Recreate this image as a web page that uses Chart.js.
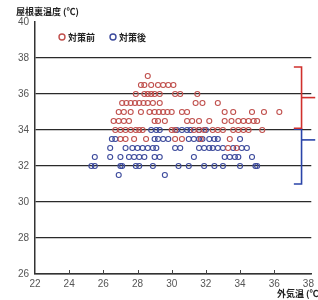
<!DOCTYPE html>
<html>
<head>
<meta charset="utf-8">
<script src="https://cdn.jsdelivr.net/npm/chart.js@4.4.1/dist/chart.umd.min.js"></script>
<style>
  html, body { margin: 0; padding: 0; background: #fff; }
  #wrap { width: 318px; height: 300px; position: relative; }
</style>
</head>
<body>
<div id="wrap"><canvas id="c"></canvas></div>
<script>
// 対策前 (before) - outside temp x, attic temp y
const beforeX = [
  28.6,
  28.2, 28.4, 28.8, 29.2, 29.5, 29.8, 30.1,
  27.9, 28.4, 28.6, 28.8, 29.0, 29.3, 30.2, 30.5, 31.5,
  27.1, 27.35, 27.6, 27.85, 28.1, 28.35, 28.6, 28.9, 29.3, 31.4, 31.8, 32.7,
  26.9, 27.2, 27.6, 28.2, 28.7, 29.0, 29.25, 29.5, 29.75, 30.0, 30.6, 30.9, 33.1, 33.6, 34.7, 35.4, 36.3,
  26.6, 26.9, 27.2, 27.5, 29.0, 29.2, 29.6, 30.9, 31.2, 31.6, 32.2, 33.1, 33.5, 33.9, 34.2, 34.5, 34.8, 35.0,
  26.7, 27.0, 27.3, 27.6, 27.9, 28.1, 28.3, 30.0, 30.2, 31.3, 31.6, 31.9, 32.4, 32.7, 33.0, 33.6, 33.9, 34.2, 34.5, 35.3,
  27.0, 27.3, 27.8, 28.5, 30.2, 30.6, 31.7, 33.4,
  33.3, 33.8
];
const beforeY = [
  37,
  36.5, 36.5, 36.5, 36.5, 36.5, 36.5, 36.5,
  36, 36, 36, 36, 36, 36, 36, 36, 36,
  35.5, 35.5, 35.5, 35.5, 35.5, 35.5, 35.5, 35.5, 35.5, 35.5, 35.5, 35.5,
  35, 35, 35, 35, 35, 35, 35, 35, 35, 35, 35, 35, 35, 35, 35, 35, 35,
  34.5, 34.5, 34.5, 34.5, 34.5, 34.5, 34.5, 34.5, 34.5, 34.5, 34.5, 34.5, 34.5, 34.5, 34.5, 34.5, 34.5, 34.5,
  34, 34, 34, 34, 34, 34, 34, 34, 34, 34, 34, 34, 34, 34, 34, 34, 34, 34, 34, 34,
  33.5, 33.5, 33.5, 33.5, 33.5, 33.5, 33.5, 33.5,
  33, 33
];

// 対策後 (after)
const afterX = [
  28.8, 29.1, 29.3, 30.3, 30.6, 30.9, 31.1, 31.6, 32.0,
  26.5, 26.7, 29.0, 29.2, 29.5, 29.8, 31.0, 31.3, 31.6, 31.8, 32.2, 32.5, 32.7, 34.0,
  26.4, 27.3, 27.7, 28.0, 28.3, 28.6, 28.9, 29.1, 30.2, 30.5, 31.6, 31.9, 32.2, 32.4, 32.7, 33.0, 33.6, 34.1, 34.4,
  25.5, 26.4, 27.0, 27.5, 27.8, 28.1, 28.4, 29.0, 29.3, 31.3, 33.1, 33.4, 33.7, 33.9, 34.7,
  25.3, 25.5, 27.0, 27.1, 27.9, 28.1, 28.9, 30.4, 31.0, 31.9, 32.5, 33.0, 34.0, 34.9, 35.0,
  26.9, 29.6
];
const afterY = [
  34, 34, 34, 34, 34, 34, 34, 34, 34,
  33.5, 33.5, 33.5, 33.5, 33.5, 33.5, 33.5, 33.5, 33.5, 33.5, 33.5, 33.5, 33.5, 33.5,
  33, 33, 33, 33, 33, 33, 33, 33, 33, 33, 33, 33, 33, 33, 33, 33, 33, 33, 33,
  32.5, 32.5, 32.5, 32.5, 32.5, 32.5, 32.5, 32.5, 32.5, 32.5, 32.5, 32.5, 32.5, 32.5, 32.5,
  32, 32, 32, 32, 32, 32, 32, 32, 32, 32, 32, 32, 32, 32, 32,
  31.5, 31.5
];

const xTicks = [22, 24, 26, 28, 30, 32, 34, 36, 38];
const yTicks = [26, 28, 30, 32, 34, 36, 38, 40];
const seriesNames = ['対策前', '対策後'];
const yTitle = '屋根裏温度 (℃)';
const xTitle = '外気温 (℃)';

// range brackets on the right: [top, middle, bottom]
const beforeRange = [37.5, 35.8, 34.1];
const afterRange = [34.05, 33.45, 31.0];

const RED = '#c0504d';
const BLUE = '#3c4a9c';
const BR_RED = '#d0302c';
const BR_BLUE = '#2a44a8';
const JP = '"Noto Sans CJK JP", sans-serif';

const toPts = (xs, ys) => xs.map((x, i) => ({ x, y: ys[i] }));

function bracket(r, color) {
  const bx = 37.6, lx = 37.15, rx = 38.4;
  return [
    { data: [{ x: lx, y: r[0] }, { x: bx, y: r[0] }, { x: bx, y: r[2] }, { x: lx, y: r[2] }], color },
    { data: [{ x: bx, y: r[1] }, { x: rx, y: r[1] }], color }
  ].map(d => ({
    type: 'line', data: d.data, borderColor: d.color, borderWidth: 1.6,
    pointRadius: 0, fill: false, clip: false, tension: 0
  }));
}

const extras = {
  id: 'extras',
  afterDraw(chart) {
    const ctx = chart.ctx;
    const xs = chart.scales.x, ys = chart.scales.y;
    ctx.save();
    // inward tick marks on x axis
    ctx.strokeStyle = '#444';
    ctx.lineWidth = 1;
    xTicks.slice(1, -1).forEach(v => {
      const px = Math.round(xs.getPixelForValue(v)) + 0.5;
      ctx.beginPath();
      ctx.moveTo(px, ys.bottom);
      ctx.lineTo(px, ys.bottom - 4);
      ctx.stroke();
    });
    // titles
    ctx.fillStyle = '#222';
    ctx.font = 'bold 9px ' + JP;
    ctx.textBaseline = 'middle';
    ctx.textAlign = 'left';
    ctx.fillText(yTitle, 16, 12);
    ctx.fillText(xTitle, 277, 294);
    // legend
    const items = [[62, RED], [113, BLUE]];
    items.forEach(([x, c], i) => {
      ctx.strokeStyle = c;
      ctx.lineWidth = 1.4;
      ctx.beginPath();
      ctx.arc(x, 37, 3, 0, Math.PI * 2);
      ctx.stroke();
      ctx.fillStyle = '#222';
      ctx.fillText(seriesNames[i], x + 6, 37.5);
    });
    ctx.restore();
  }
};

new Chart(document.getElementById('c'), {
  type: 'scatter',
  data: {
    datasets: [
      {
        label: seriesNames[0], data: toPts(beforeX, beforeY),
        pointStyle: 'circle', pointRadius: 2.5, borderWidth: 1.1,
        borderColor: RED, backgroundColor: 'rgba(255,255,255,0)'
      },
      {
        label: seriesNames[1], data: toPts(afterX, afterY),
        pointStyle: 'circle', pointRadius: 2.5, borderWidth: 1.1,
        borderColor: BLUE, backgroundColor: 'rgba(255,255,255,0)'
      },
      ...bracket(beforeRange, BR_RED),
      ...bracket(afterRange, BR_BLUE)
    ]
  },
  options: {
    responsive: true,
    maintainAspectRatio: false,
    animation: false,
    layout: { padding: { top: 22, left: 0, right: 0, bottom: 0 } },
    plugins: { legend: { display: false }, tooltip: { enabled: false } },
    scales: {
      x: {
        type: 'linear', min: 22, max: 38.17,
        afterBuildTicks: s => { s.ticks = xTicks.map(v => ({ value: v })); },
        afterFit: s => { s.height = 26; },
        grid: { display: false, drawTicks: false },
        border: { display: true, color: '#333', width: 1.5 },
        ticks: { color: '#555', font: { family: 'Liberation Sans', size: 10 }, padding: 4, maxRotation: 0 }
      },
      y: {
        type: 'linear', min: 26, max: 40,
        afterBuildTicks: s => { s.ticks = yTicks.map(v => ({ value: v })); },
        afterFit: s => { s.width = 35; },
        grid: {
          drawTicks: false,
          color: c => (c.tick && c.tick.value === 40) ? 'rgba(0,0,0,0)' : '#2a2a2a',
          lineWidth: 1.3
        },
        border: { display: true, color: '#333', width: 1.5 },
        ticks: { color: '#555', font: { family: 'Liberation Sans', size: 10 }, padding: 6 }
      }
    }
  },
  plugins: [extras]
});
</script>
</body>
</html>
